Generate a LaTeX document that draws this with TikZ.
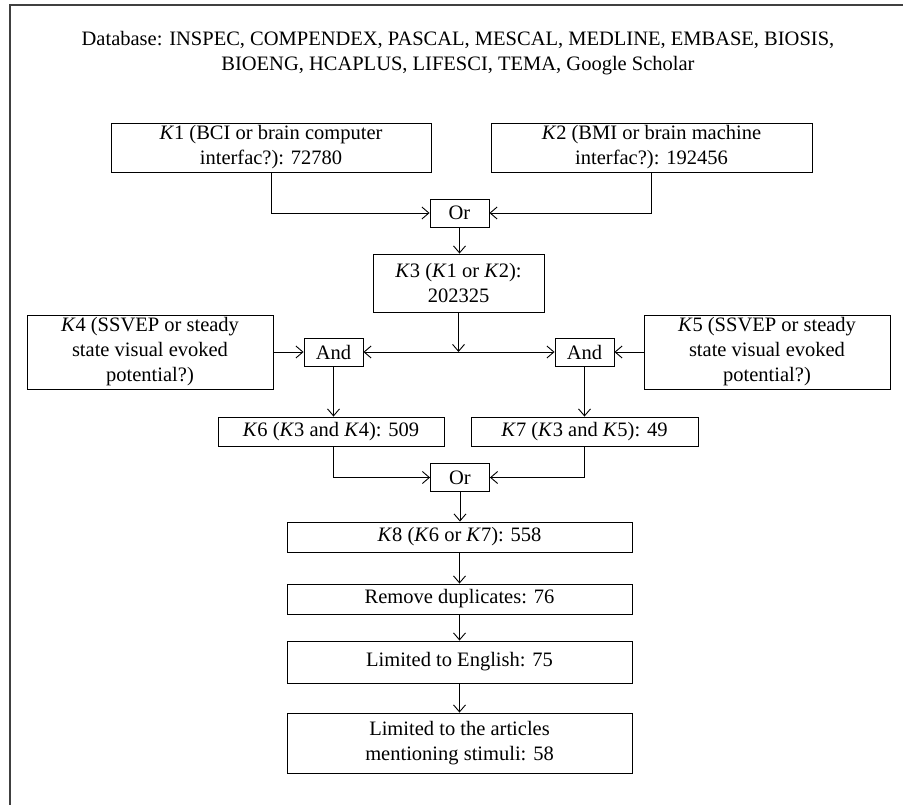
\documentclass[tikz,border=0pt]{standalone}
\usepackage{fontspec}
\setmainfont{Liberation Serif}
\usetikzlibrary{arrows.meta}

\begin{document}
\begin{tikzpicture}[
			x=1pt, y=-1pt,
			font=\fontsize{20.5}{25}\selectfont,
			box/.style={draw, line width=0.9pt, inner sep=0pt, align=center},
			gate/.style={box, minimum width=59pt, minimum height=28pt},
			flow/.style={line width=0.9pt, -{Straight Barb[length=7pt,width=12pt]}}
		]
		\useasboundingbox (0,0) rectangle (903,805);
		\draw[line width=1.5pt, black!75] (10,805) -- (10,5) -- (903,5);

		\node[align=center] (db) at (458,53) {Database: INSPEC, COMPENDEX, PASCAL, MESCAL, MEDLINE, EMBASE, BIOSIS,\\ BIOENG, HCAPLUS, LIFESCI, TEMA, Google Scholar};

		\node[box, minimum width=320pt, minimum height=49pt] (k1) at (271,147.5) {\textit{K}1 (BCI or brain computer\\ interfac?): 72780};
		\node[box, minimum width=321pt, minimum height=49pt] (k2) at (651.5,147.5) {\textit{K}2 (BMI or brain machine\\ interfac?): 192456};
		\node[gate] (or1) at (459.5,213) {Or};
		\node[box, minimum width=171pt, minimum height=58pt] (k3) at (458.5,283) {\textit{K}3 (\textit{K}1 or \textit{K}2):\\ 202325};
		\node[box, minimum width=246pt, minimum height=74pt] (k4) at (150,352) {\textit{K}4 (SSVEP or steady\\ state visual evoked\\ potential?)};
		\node[gate] (and1) at (333.5,352) {And};
		\node[gate] (and2) at (584.5,352) {And};
		\node[box, minimum width=246pt, minimum height=74pt] (k5) at (767,352) {\textit{K}5 (SSVEP or steady\\ state visual evoked\\ potential?)};
		\node[box, minimum width=226pt, minimum height=29pt] (k6) at (331,431.5) {\textit{K}6 (\textit{K}3 and \textit{K}4): 509};
		\node[box, minimum width=227pt, minimum height=29pt] (k7) at (584.5,431.5) {\textit{K}7 (\textit{K}3 and \textit{K}5): 49};
		\node[gate] (or2) at (460,477.5) {Or};
		\node[box, minimum width=345pt, minimum height=30pt] (k8) at (459.5,537) {\textit{K}8 (\textit{K}6 or \textit{K}7): 558};
		\node[box, minimum width=345pt, minimum height=30pt] (dup) at (459.5,599) {Remove duplicates: 76};
		\node[box, minimum width=345pt, minimum height=42pt] (eng) at (459.5,662) {Limited to English: 75};
		\node[box, minimum width=345pt, minimum height=60pt] (stim) at (459.5,743) {Limited to the articles\\ mentioning stimuli: 58};

		\coordinate (split) at (k3.south |- and1.east);

		\draw[flow] (k1.south) |- (or1.west);
		\draw[flow] (k2.south) |- (or1.east);
		\draw[flow] (or1.south) -- (or1.south |- k3.north);
		\draw[flow] (k3.south) -- (split);
		\draw[flow, {Straight Barb[length=7pt,width=12pt]}-{Straight Barb[length=7pt,width=12pt]}] (and1.east) -- (and2.west);
		\draw[flow] (k4.east) -- (and1.west);
		\draw[flow] (k5.west) -- (and2.east);
		\draw[flow] (and1.south) -- (and1.south |- k6.north);
		\draw[flow] (and2.south) -- (and2.south |- k7.north);
		\draw[flow] (k6.south -| and1.south) |- (or2.west);
		\draw[flow] (k7.south) |- (or2.east);
		\draw[flow] (or2.south) -- (or2.south |- k8.north);
		\draw[flow] (k8) -- (dup);
		\draw[flow] (dup) -- (eng);
		\draw[flow] (eng) -- (stim);
	\end{tikzpicture}
\end{document}
